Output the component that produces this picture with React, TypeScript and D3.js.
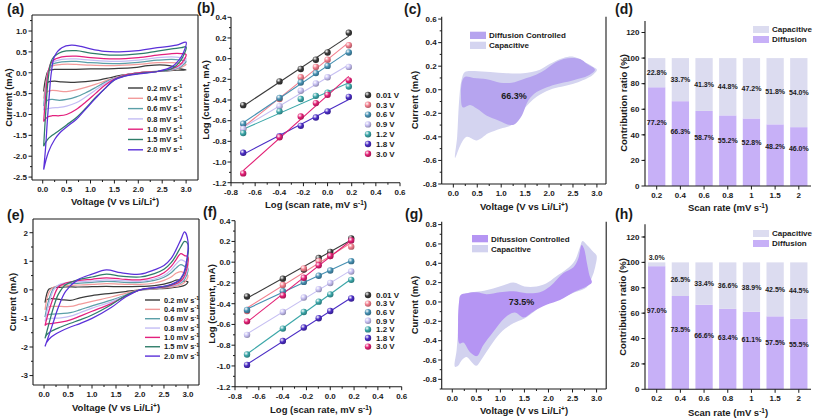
import React from "react";
import * as d3 from "d3";

const FONT = "'Liberation Sans', Arial, Helvetica, sans-serif";

// ---------------- shared categories ----------------
const scanRates = ["0.2", "0.4", "0.6", "0.8", "1.0", "1.5", "2.0"];
const cvColors = ["#3c3c3c", "#f29b9b", "#5b9fa8", "#c3bdf4", "#e3207d", "#2f7d69", "#5b30d9"];

// ---------------- panel (a) CV loops (V, mA) ----------------
const aV02 = [0.02, 0.06, 0.12, 0.25, 0.6, 1.0, 1.5, 1.9, 2.2, 2.45, 2.65, 2.85, 3.0, 2.8, 2.5, 2.2, 1.9, 1.6, 1.4, 1.2, 0.9, 0.6, 0.4, 0.25, 0.12, 0.05, 0.02];
const aI02 = [-0.45, -0.15, 0.05, 0.08, 0.08, 0.09, 0.1, 0.12, 0.17, 0.19, 0.17, 0.1, 0.07, 0.06, 0.04, 0.02, -0.02, -0.07, -0.12, -0.17, -0.21, -0.23, -0.22, -0.2, -0.22, -0.3, -0.45];
const aVmid = [0.02, 0.06, 0.12, 0.2, 0.4, 0.7, 1.0, 1.5, 2.0, 2.4, 2.7, 2.9, 3.0, 2.88, 2.7, 2.4, 2.0, 1.7, 1.5, 1.3, 1.1, 0.9, 0.7, 0.5, 0.35, 0.2, 0.1, 0.02];
const aI04 = [-0.62, -0.3, 0.05, 0.16, 0.2, 0.2, 0.18, 0.17, 0.2, 0.24, 0.24, 0.22, 0.2, 0.12, 0.06, 0.03, 0.0, -0.06, -0.12, -0.2, -0.28, -0.35, -0.41, -0.45, -0.44, -0.42, -0.45, -0.62];
const aI06 = [-0.8, -0.4, 0.05, 0.2, 0.26, 0.27, 0.24, 0.22, 0.25, 0.3, 0.32, 0.3, 0.28, 0.14, 0.07, 0.03, 0.0, -0.06, -0.13, -0.23, -0.36, -0.48, -0.58, -0.64, -0.66, -0.64, -0.66, -0.8];
const aI08 = [-0.9, -0.5, 0.05, 0.24, 0.32, 0.33, 0.3, 0.27, 0.3, 0.36, 0.38, 0.36, 0.34, 0.16, 0.08, 0.03, 0.0, -0.06, -0.14, -0.26, -0.42, -0.58, -0.72, -0.8, -0.83, -0.84, -0.86, -0.9];
const aI10 = [-1.17, -0.6, 0.05, 0.28, 0.38, 0.4, 0.36, 0.33, 0.36, 0.42, 0.46, 0.46, 0.44, 0.2, 0.09, 0.03, 0.0, -0.06, -0.15, -0.3, -0.5, -0.7, -0.88, -1.0, -1.03, -1.03, -1.06, -1.17];
const aI15 = [-1.76, -1.0, -0.1, 0.33, 0.5, 0.53, 0.47, 0.42, 0.45, 0.52, 0.57, 0.6, 0.62, 0.28, 0.1, 0.03, -0.02, -0.08, -0.17, -0.38, -0.6, -0.85, -1.08, -1.25, -1.38, -1.5, -1.6, -1.76];
const aV20 = [0.02, 0.06, 0.1, 0.14, 0.18, 0.25, 0.4, 0.6, 0.8, 1.0, 1.3, 1.6, 2.0, 2.4, 2.8, 3.0, 2.95, 2.85, 2.7, 2.4, 2.0, 1.7, 1.5, 1.3, 1.1, 0.9, 0.7, 0.5, 0.35, 0.25, 0.12, 0.02];
const aI20 = [-2.32, -1.8, -1.1, -0.5, 0.0, 0.4, 0.6, 0.66, 0.63, 0.57, 0.51, 0.5, 0.53, 0.6, 0.66, 0.73, 0.5, 0.3, 0.14, 0.03, -0.03, -0.09, -0.17, -0.38, -0.62, -0.87, -1.12, -1.3, -1.45, -1.6, -1.9, -2.32];

// ---------------- panel (e) CV loops ----------------
const eVan = [0.02, 0.1, 0.2, 0.3, 0.45, 0.7, 1.0, 1.3, 1.6, 2.0, 2.3, 2.5, 2.65, 2.75, 2.85, 2.93, 3.0];
const eVca = [2.97, 2.9, 2.8, 2.6, 2.3, 2.0, 1.7, 1.4, 1.0, 0.75, 0.55, 0.35, 0.15, 0.05, 0.02];
const eIan = [
  [-0.45, 0.02, 0.08, 0.09, 0.1, 0.1, 0.11, 0.12, 0.11, 0.12, 0.15, 0.2, 0.27, 0.34, 0.34, 0.3, 0.28],
  [-0.7, -0.1, 0.1, 0.13, 0.15, 0.17, 0.19, 0.22, 0.2, 0.19, 0.24, 0.33, 0.45, 0.58, 0.64, 0.58, 0.5],
  [-0.95, -0.35, 0.05, 0.15, 0.2, 0.23, 0.26, 0.3, 0.27, 0.26, 0.33, 0.44, 0.6, 0.76, 0.88, 0.82, 0.75],
  [-1.1, -0.5, 0.0, 0.17, 0.24, 0.28, 0.31, 0.35, 0.32, 0.3, 0.38, 0.5, 0.7, 0.9, 1.05, 1.0, 0.9],
  [-1.25, -0.75, -0.25, 0.1, 0.24, 0.32, 0.37, 0.42, 0.38, 0.35, 0.45, 0.6, 0.82, 1.05, 1.27, 1.2, 1.15],
  [-1.7, -1.2, -0.6, -0.15, 0.18, 0.35, 0.45, 0.55, 0.48, 0.45, 0.57, 0.72, 0.95, 1.2, 1.5, 1.7, 1.6],
  [-1.98, -1.6, -1.1, -0.6, -0.05, 0.35, 0.55, 0.7, 0.6, 0.55, 0.7, 0.85, 1.1, 1.4, 1.75, 2.03, 1.7],
];
const eIca = [
  [0.2, 0.14, 0.1, 0.06, 0.03, 0.0, -0.06, -0.12, -0.2, -0.28, -0.37, -0.34, -0.31, -0.35, -0.45],
  [0.35, 0.22, 0.15, 0.09, 0.04, 0.0, -0.12, -0.25, -0.4, -0.5, -0.58, -0.58, -0.58, -0.62, -0.7],
  [0.5, 0.3, 0.2, 0.11, 0.05, 0.0, -0.18, -0.36, -0.56, -0.7, -0.8, -0.83, -0.85, -0.88, -0.95],
  [0.6, 0.35, 0.22, 0.12, 0.05, 0.0, -0.2, -0.42, -0.64, -0.8, -0.92, -0.98, -1.0, -1.03, -1.1],
  [0.7, 0.4, 0.25, 0.13, 0.06, 0.0, -0.22, -0.48, -0.75, -0.92, -1.05, -1.13, -1.18, -1.2, -1.25],
  [0.9, 0.5, 0.3, 0.15, 0.07, 0.0, -0.2, -0.52, -0.88, -1.05, -1.17, -1.3, -1.45, -1.58, -1.7],
  [1.0, 0.55, 0.32, 0.17, 0.08, 0.0, -0.25, -0.62, -1.0, -1.18, -1.3, -1.45, -1.65, -1.85, -1.98],
];

// ---------------- panels (b) and (f): log i vs log v ----------------
const logRate = [-0.699, -0.398, -0.222, -0.097, 0.0, 0.176];
const potLabels = ["0.01 V", "0.3 V", "0.6 V", "0.9 V", "1.2 V", "1.8 V", "3.0 V"];
const potColors = ["#3a3a3a", "#f27d8c", "#4690b2", "#c6bff2", "#3aa6a8", "#4a2cc4", "#e21f74"];
const bLogI = [
  [-0.45, -0.22, -0.1, -0.01, 0.06, 0.25],
  [-0.68, -0.39, -0.18, -0.08, -0.01, 0.13],
  [-0.63, -0.38, -0.23, -0.14, -0.07, 0.06],
  [-0.68, -0.46, -0.31, -0.24, -0.18, -0.08],
  [-0.72, -0.51, -0.39, -0.36, -0.33, -0.27],
  [-0.91, -0.75, -0.65, -0.57, -0.51, -0.37],
  [-1.11, -0.76, -0.56, -0.43, -0.35, -0.21],
];
const fLogI = [
  [-0.33, -0.16, -0.07, 0.04, 0.1, 0.23],
  [-0.47, -0.22, -0.06, 0.01, 0.06, 0.15],
  [-0.46, -0.28, -0.19, -0.13, -0.08, 0.01],
  [-0.7, -0.48, -0.34, -0.26, -0.2, -0.09],
  [-0.89, -0.64, -0.48, -0.38, -0.31, -0.17],
  [-0.99, -0.76, -0.63, -0.54, -0.47, -0.35],
  [-0.57, -0.32, -0.15, -0.03, 0.06, 0.21],
];

// ---------------- panels (c) and (g): separated CV areas ----------------
const cOuterV = [0.035, 0.08, 0.12, 0.17, 0.24, 0.42, 0.77, 1.12, 1.46, 1.81, 2.02, 2.3, 2.51, 2.72, 2.9, 3.0, 2.95, 2.86, 2.51, 2.02, 1.74, 1.46, 1.22, 0.98, 0.73, 0.49, 0.28, 0.15, 0.07];
const cOuterI = [-0.58, -0.4, -0.1, 0.08, 0.15, 0.16, 0.15, 0.14, 0.14, 0.17, 0.22, 0.27, 0.28, 0.24, 0.2, 0.17, 0.14, 0.11, 0.05, 0.0, -0.06, -0.17, -0.3, -0.33, -0.37, -0.43, -0.4, -0.47, -0.55];
const cInnerV = [0.19, 0.25, 0.42, 0.7, 0.98, 1.22, 1.46, 1.74, 1.92, 2.09, 2.3, 2.48, 2.65, 2.79, 2.96, 2.82, 2.51, 2.02, 1.74, 1.57, 1.43, 1.29, 1.19, 0.94, 0.7, 0.49, 0.35, 0.2, 0.16];
const cInnerI = [0.08, 0.11, 0.1, 0.09, 0.06, 0.06, 0.09, 0.13, 0.17, 0.22, 0.26, 0.27, 0.26, 0.22, 0.17, 0.12, 0.08, 0.03, -0.02, -0.09, -0.22, -0.29, -0.3, -0.26, -0.22, -0.16, -0.13, -0.15, -0.05];
const gOuterV = [0.055, 0.09, 0.13, 0.18, 0.25, 0.4, 0.6, 0.85, 1.05, 1.27, 1.5, 1.75, 1.95, 2.15, 2.38, 2.55, 2.65, 2.71, 2.8, 2.93, 3.0, 2.97, 2.9, 2.79, 2.55, 2.3, 1.96, 1.7, 1.5, 1.27, 1.0, 0.8, 0.6, 0.5, 0.4, 0.3, 0.2, 0.12];
const gOuterI = [-0.67, -0.5, -0.25, 0.03, 0.08, 0.1, 0.11, 0.14, 0.17, 0.2, 0.16, 0.16, 0.19, 0.26, 0.34, 0.43, 0.56, 0.63, 0.59, 0.52, 0.48, 0.36, 0.25, 0.15, 0.1, 0.05, 0.0, -0.1, -0.17, -0.22, -0.32, -0.45, -0.6, -0.66, -0.62, -0.57, -0.6, -0.66];
const gInnerV = [0.17, 0.3, 0.51, 0.71, 0.99, 1.27, 1.55, 1.82, 2.03, 2.31, 2.52, 2.62, 2.69, 2.74, 2.8, 2.85, 2.9, 2.79, 2.52, 2.24, 1.96, 1.68, 1.48, 1.3, 1.1, 0.85, 0.64, 0.51, 0.37, 0.23, 0.15, 0.12, 0.14];
const gInnerI = [0.07, 0.09, 0.1, 0.08, 0.1, 0.11, 0.09, 0.1, 0.16, 0.3, 0.36, 0.45, 0.59, 0.55, 0.4, 0.28, 0.2, 0.16, 0.1, 0.02, -0.03, -0.1, -0.16, -0.11, -0.16, -0.31, -0.45, -0.56, -0.52, -0.42, -0.43, -0.2, 0.0];

// ---------------- panels (d) and (h): contribution ratios ----------------
const barRates = ["0.2", "0.4", "0.6", "0.8", "1", "1.5", "2"];
const dDiff = [77.2, 66.3, 58.7, 55.2, 52.8, 48.2, 46.0];
const dCap = [22.8, 33.7, 41.3, 44.8, 47.2, 51.8, 54.0];
const hDiff = [97.0, 73.5, 66.6, 63.4, 61.1, 57.5, 55.5];
const hCap = [3.0, 26.5, 33.4, 36.6, 38.9, 42.5, 44.5];

const INK = "#1a1a1a";
const DIFF_BAR = "#c7b0f7";
const CAP_BAR = "#dcdcf0";

type Pt = [number, number];
const zip = (a: number[], b: number[]): Pt[] => a.map((v, k) => [v, b[k]] as Pt);

function minorTicks(ticks: number[], domain: number[]) {
  const step = ticks[1] - ticks[0];
  const lo = Math.min(domain[0], domain[1]);
  const hi = Math.max(domain[0], domain[1]);
  const out: number[] = [];
  for (let k = -2; k < ticks.length + 2; k++) {
    const v = ticks[0] + step * (k + 0.5);
    if (v >= lo - 1e-9 && v <= hi + 1e-9) out.push(v);
  }
  return out;
}

function Axes(props: {
  x: any; y: any; xTicks: number[]; yTicks: number[];
  xFmt: (v: number) => string; yFmt: (v: number) => string;
  top?: boolean; right?: boolean; labelGap?: number;
}) {
  const { x, y, xTicks, yTicks, xFmt, yFmt, top, right } = props;
  const gap = props.labelGap ?? 5;
  const [xl, xr] = x.range();
  const [yb, yt] = y.range();
  const xm = minorTicks(xTicks, x.domain());
  const ym = minorTicks(yTicks, y.domain());
  return (
    <g stroke={INK} fill={INK} fontSize={8} fontWeight="bold">
      <line x1={xl} x2={xr} y1={yb} y2={yb} strokeWidth={1.1} />
      <line x1={xl} x2={xl} y1={yb} y2={yt} strokeWidth={1.1} />
      {top && <line x1={xl} x2={xr} y1={yt} y2={yt} strokeWidth={1.1} />}
      {right && <line x1={xr} x2={xr} y1={yb} y2={yt} strokeWidth={1.1} />}
      {xTicks.map((v, k) => (
        <g key={"xt" + k}>
          <line x1={x(v)} x2={x(v)} y1={yb} y2={yb + 3.5} />
          <text x={x(v)} y={yb + 12} textAnchor="middle" stroke="none">{xFmt(v)}</text>
        </g>
      ))}
      {xm.map((v, k) => <line key={"xm" + k} x1={x(v)} x2={x(v)} y1={yb} y2={yb + 2} />)}
      {yTicks.map((v, k) => (
        <g key={"yt" + k}>
          <line x1={xl} x2={xl - 3.5} y1={y(v)} y2={y(v)} />
          <text x={xl - gap} y={y(v)} dy="0.35em" textAnchor="end" stroke="none">{yFmt(v)}</text>
        </g>
      ))}
      {ym.map((v, k) => <line key={"ym" + k} x1={xl} x2={xl - 2} y1={y(v)} y2={y(v)} />)}
    </g>
  );
}

function Title({ x, y, rotate, children }: { x: number; y: number; rotate?: boolean; children: React.ReactNode }) {
  return (
    <text x={x} y={y} textAnchor="middle" fontSize={9.5} fontWeight="bold" fill={INK}
      transform={rotate ? `rotate(-90 ${x} ${y})` : undefined}>
      {children}
    </text>
  );
}

function PanelLabel({ x, y, t }: { x: number; y: number; t: string }) {
  return <text x={x} y={y} fontSize={14} fontWeight="bold" fill={INK}>{t}</text>;
}

const f1 = (v: number) => (Math.abs(v) < 1e-9 ? 0 : v).toFixed(1);
const f0 = (v: number) => (Math.abs(v) < 1e-9 ? 0 : v).toFixed(0);
const stepRange = (a: number, b: number, s: number) => d3.range(Math.round(a / s), Math.round(b / s) + 1).map((k) => +(k * s).toFixed(6));

function linFit(xs: number[], ys: number[]) {
  const mx = d3.mean(xs) as number;
  const my = d3.mean(ys) as number;
  let num = 0, den = 0;
  xs.forEach((xv, k) => { num += (xv - mx) * (ys[k] - my); den += (xv - mx) ** 2; });
  const m = num / den;
  return [m, my - m * mx];
}

function CVPanel({ x, y, loops, legendX, legendY, legendStep }: { x: any; y: any; loops: Pt[][]; legendX: number; legendY: number; legendStep: number }) {
  const line = d3.line<Pt>().x((d) => x(d[0])).y((d) => y(d[1])).curve(d3.curveCatmullRom.alpha(0.5));
  return (
    <g>
      {loops.map((pts, k) => (
        <path key={k} d={line(pts) || ""} fill="none" stroke={cvColors[k]} strokeWidth={1.25} strokeLinejoin="round" />
      ))}
      {scanRates.map((r, k) => (
        <g key={"lg" + k}>
          <line x1={legendX} x2={legendX + 15} y1={legendY + k * legendStep} y2={legendY + k * legendStep} stroke={cvColors[k]} strokeWidth={1.4} />
          <text x={legendX + 19} y={legendY + k * legendStep} dy="0.35em" fontSize={7.5} fontWeight="bold" fill={INK}>
            {r} mV s<tspan dy={-2.8} fontSize={5.5}>-1</tspan>
          </text>
        </g>
      ))}
    </g>
  );
}

function LogPanel({ x, y, data, id, legendY, legendStep }: { x: any; y: any; data: number[][]; id: string; legendY: number; legendStep: number }) {
  return (
    <g>
      <defs>
        {potColors.map((c, k) => (
          <radialGradient key={k} id={`${id}-ball-${k}`} cx="0.35" cy="0.32" r="0.7">
            <stop offset="0" stopColor="#ffffff" />
            <stop offset="0.5" stopColor={c} />
            <stop offset="1" stopColor={d3.color(c)!.darker(0.9).formatHex()} />
          </radialGradient>
        ))}
      </defs>
      {data.map((ys, k) => {
        const [m, b] = linFit(logRate, ys);
        const x0 = logRate[0], x1 = logRate[logRate.length - 1];
        return <line key={"fit" + k} x1={x(x0)} x2={x(x1)} y1={y(m * x0 + b)} y2={y(m * x1 + b)} stroke={potColors[k]} strokeWidth={1.1} />;
      })}
      {data.map((ys, k) =>
        ys.map((v, j) => (
          <circle key={`p${k}-${j}`} cx={x(logRate[j])} cy={y(v)} r={3.2} fill={`url(#${id}-ball-${k})`} />
        ))
      )}
      {potLabels.map((t, k) => (
        <g key={"lg" + k}>
          <circle cx={368} cy={legendY + k * legendStep} r={3.2} fill={`url(#${id}-ball-${k})`} />
          <text x={376} y={legendY + k * legendStep} dy="0.35em" fontSize={8} fontWeight="bold" fill={INK}>{t}</text>
        </g>
      ))}
    </g>
  );
}

function AreaPanel({ x, y, outer, inner, innerColor, outerColor, pct, pctAt, legendX, legendY, diffText }: any) {
  const area = d3.line<Pt>().x((d) => x(d[0])).y((d) => y(d[1])).curve(d3.curveCatmullRomClosed.alpha(0.5));
  return (
    <g>
      <path d={area(outer) || ""} fill={outerColor} />
      <path d={area(inner) || ""} fill={innerColor} />
      <text x={x(pctAt[0])} y={y(pctAt[1])} dy="0.35em" textAnchor="middle" fontSize={9} fontWeight="bold" fill={INK}>{pct}</text>
      <rect x={legendX} y={legendY} width={16} height={7.3} fill={innerColor} />
      <text x={legendX + 19} y={legendY + 3.8} dy="0.35em" fontSize={8} fontWeight="bold" fill={INK}>{diffText}</text>
      <rect x={legendX} y={legendY + 10} width={16} height={7.3} fill={outerColor} />
      <text x={legendX + 19} y={legendY + 13.8} dy="0.35em" fontSize={8} fontWeight="bold" fill={INK}>Capacitive</text>
    </g>
  );
}

function BarPanel({ x, y, diff, cap, legendY }: { x: any; y: any; diff: number[]; cap: number[]; legendY: number }) {
  const bw = x.bandwidth();
  return (
    <g>
      {barRates.map((r, k) => {
        const x0 = x(r);
        const capY = cap[k] < 8 ? 100 + 4 : diff[k] + cap[k] / 2;
        return (
          <g key={r}>
            <rect x={x0} y={y(diff[k])} width={bw} height={y(0) - y(diff[k])} fill={DIFF_BAR} />
            <rect x={x0} y={y(100)} width={bw} height={y(diff[k]) - y(100)} fill={CAP_BAR} />
            <text x={x0 + bw / 2} y={y(capY)} dy="0.35em" textAnchor="middle" fontSize={7} fontWeight="bold" fill={INK}>{cap[k].toFixed(1)}%</text>
            <text x={x0 + bw / 2} y={y(diff[k] * 0.64)} dy="0.35em" textAnchor="middle" fontSize={7} fontWeight="bold" fill={INK}>{diff[k].toFixed(1)}%</text>
          </g>
        );
      })}
      <rect x={753} y={legendY} width={16} height={7} fill={CAP_BAR} />
      <text x={772} y={legendY + 3.5} dy="0.35em" fontSize={8} fontWeight="bold" fill={INK}>Capacitive</text>
      <rect x={753} y={legendY + 10} width={16} height={7} fill={DIFF_BAR} />
      <text x={772} y={legendY + 13.5} dy="0.35em" fontSize={8} fontWeight="bold" fill={INK}>Diffusion</text>
    </g>
  );
}

function BarAxes({ x, y }: { x: any; y: any }) {
  const [yb, yt] = y.range();
  const xl = 645;
  const xr = 811;
  const yTicks = stepRange(0, 120, 20);
  const ym = stepRange(10, 120, 20);
  return (
    <g stroke={INK} fill={INK} fontSize={8} fontWeight="bold">
      <line x1={xl} x2={xr} y1={yb} y2={yb} strokeWidth={1.1} />
      <line x1={xl} x2={xl} y1={yb} y2={yt} strokeWidth={1.1} />
      {barRates.map((r) => (
        <g key={r}>
          <line x1={x(r) + x.bandwidth() / 2} x2={x(r) + x.bandwidth() / 2} y1={yb} y2={yb + 3.5} />
          <text x={x(r) + x.bandwidth() / 2} y={yb + 12} textAnchor="middle" stroke="none">{r}</text>
        </g>
      ))}
      {yTicks.map((v) => (
        <g key={v}>
          <line x1={xl} x2={xl - 3.5} y1={y(v)} y2={y(v)} />
          <text x={xl - 5.5} y={y(v)} dy="0.35em" textAnchor="end" stroke="none">{v}</text>
        </g>
      ))}
      {ym.map((v) => <line key={"m" + v} x1={xl} x2={xl - 2} y1={y(v)} y2={y(v)} />)}
    </g>
  );
}

export default function App() {
  // scales
  const xA = d3.scaleLinear().domain([-0.224, 3.249]).range([32, 198]);
  const yA = d3.scaleLinear().domain([-2.57, 1.384]).range([180, 15]);
  const xE = d3.scaleLinear().domain([-0.23, 3.23]).range([33, 199]);
  const yE = d3.scaleLinear().domain([-3.33, 2.48]).range([385, 219]);
  const xB = d3.scaleLinear().domain([-0.8, 0.6]).range([231, 400]);
  const yB = d3.scaleLinear().domain([-1.2, 0.4]).range([182.7, 17.3]);
  const xF = d3.scaleLinear().domain([-0.8, 0.6]).range([235, 401.7]);
  const yF = d3.scaleLinear().domain([-1.2, 0.4]).range([386.7, 220.7]);
  const xC = d3.scaleLinear().domain([-0.243, 3.19]).range([441.7, 606]);
  const yC = d3.scaleLinear().domain([-0.8, 0.62]).range([184, 16.7]);
  const xG = d3.scaleLinear().domain([-0.22, 3.2]).range([441.7, 606.2]);
  const yG = d3.scaleLinear().domain([-0.9, 0.83]).range([389, 221.7]);
  const xD = d3.scaleBand<string>().domain(barRates).range([645.2, 810.3]).paddingInner(0.27).paddingOuter(0.12);
  const yD = d3.scaleLinear().domain([0, 129]).range([186, 21]);
  const yH = d3.scaleLinear().domain([0, 130]).range([389.3, 224.3]);

  const aLoops: Pt[][] = [
    zip(aV02, aI02), zip(aVmid, aI04), zip(aVmid, aI06), zip(aVmid, aI08),
    zip(aVmid, aI10), zip(aVmid, aI15), zip(aV20, aI20),
  ];
  const eV = [...eVan, ...eVca];
  const eLoops: Pt[][] = eIan.map((an, k) => zip(eV, [...an, ...eIca[k]]));

  const voltTicks = stepRange(0, 3, 0.5);

  return (
    <svg width={813} height={420} viewBox="0 0 813 420" fontFamily={FONT}
      style={{ position: "absolute", left: 0, top: 0, background: "#fff" }}>
      <rect width={813} height={420} fill="#fff" />

      {/* (a) */}
      <CVPanel x={xA} y={yA} loops={aLoops} legendX={128} legendY={88} legendStep={10.3} />
      <Axes x={xA} y={yA} xTicks={voltTicks} yTicks={stepRange(-2.5, 1.0, 0.5)} xFmt={f1} yFmt={f1} top right />
      <Title x={115} y={205}>Voltage (V vs Li/Li<tspan dy={-3.5} fontSize={6.5}>+</tspan><tspan dy={3.5}>)</tspan></Title>
      <Title x={12} y={97.5} rotate>Current (mA)</Title>
      <PanelLabel x={7} y={14} t="(a)" />

      {/* (b) */}
      <LogPanel x={xB} y={yB} data={bLogI} id="b" legendY={95} legendStep={9.8} />
      <Axes x={xB} y={yB} xTicks={stepRange(-0.8, 0.6, 0.2)} yTicks={stepRange(-1.2, 0.4, 0.2)} xFmt={f1} yFmt={f1} labelGap={4.5} />
      <Title x={316} y={208}>Log (scan rate, mV s<tspan dy={-3.5} fontSize={6.5}>-1</tspan><tspan dy={3.5}>)</tspan></Title>
      <Title x={209} y={100} rotate>Log (current, mA)</Title>
      <PanelLabel x={197} y={13} t="(b)" />

      {/* (c) */}
      <AreaPanel x={xC} y={yC} outer={zip(cOuterV, cOuterI)} inner={zip(cInnerV, cInnerI)}
        innerColor="#b6a4ef" outerColor="#d4d4f0" pct="66.3%" pctAt={[1.27, -0.05]}
        legendX={470} legendY={31.7} diffText="Diffusion Controlled" />
      <Axes x={xC} y={yC} xTicks={voltTicks} yTicks={stepRange(-0.8, 0.6, 0.2)} xFmt={f1} yFmt={f1} right />
      <Title x={524} y={210}>Voltage (V vs Li/Li<tspan dy={-3.5} fontSize={6.5}>+</tspan><tspan dy={3.5}>)</tspan></Title>
      <Title x={418} y={100} rotate>Current (mA)</Title>
      <PanelLabel x={404} y={14} t="(c)" />

      {/* (d) */}
      <BarPanel x={xD} y={yD} diff={dDiff} cap={dCap} legendY={26} />
      <BarAxes x={xD} y={yD} />
      <Title x={728} y={211}>Scan rate (mV s<tspan dy={-3.5} fontSize={6.5}>-1</tspan><tspan dy={3.5}>)</tspan></Title>
      <Title x={627} y={103} rotate>Contribution ratio (%)</Title>
      <PanelLabel x={615} y={14} t="(d)" />

      {/* (e) */}
      <CVPanel x={xE} y={yE} loops={eLoops} legendX={145} legendY={300} legendStep={9.35} />
      <Axes x={xE} y={yE} xTicks={voltTicks} yTicks={stepRange(-3, 2, 1)} xFmt={f1} yFmt={f0} top right />
      <Title x={116} y={411}>Voltage (V vs Li/Li<tspan dy={-3.5} fontSize={6.5}>+</tspan><tspan dy={3.5}>)</tspan></Title>
      <Title x={16} y={302} rotate>Current (mA)</Title>
      <PanelLabel x={7} y={220} t="(e)" />

      {/* (f) */}
      <LogPanel x={xF} y={yF} data={fLogI} id="f" legendY={295} legendStep={8.6} />
      <Axes x={xF} y={yF} xTicks={stepRange(-0.8, 0.6, 0.2)} yTicks={stepRange(-1.2, 0.4, 0.2)} xFmt={f1} yFmt={f1} labelGap={4.5} />
      <Title x={321} y={413}>Log (scan rate, mV s<tspan dy={-3.5} fontSize={6.5}>-1</tspan><tspan dy={3.5}>)</tspan></Title>
      <Title x={215} y={304} rotate>Log (current, mA)</Title>
      <PanelLabel x={203} y={217} t="(f)" />

      {/* (g) */}
      <AreaPanel x={xG} y={yG} outer={zip(gOuterV, gOuterI)} inner={zip(gInnerV, gInnerI)}
        innerColor="#b595f3" outerColor="#d2d2ef" pct="73.5%" pctAt={[1.44, 0.0]}
        legendX={472} legendY={235} diffText="Difussion Controlled" />
      <Axes x={xG} y={yG} xTicks={voltTicks} yTicks={stepRange(-0.8, 0.8, 0.2)} xFmt={f1} yFmt={f1} right />
      <Title x={524} y={414}>Voltage (V vs Li/Li<tspan dy={-3.5} fontSize={6.5}>+</tspan><tspan dy={3.5}>)</tspan></Title>
      <Title x={418} y={305} rotate>Current (mA)</Title>
      <PanelLabel x={405} y={219} t="(g)" />

      {/* (h) */}
      <BarPanel x={xD} y={yH} diff={hDiff} cap={hCap} legendY={230} />
      <BarAxes x={xD} y={yH} />
      <Title x={728} y={416}>Scan rate (mV s<tspan dy={-3.5} fontSize={6.5}>-1</tspan><tspan dy={3.5}>)</tspan></Title>
      <Title x={626} y={307} rotate>Contribution ratio (%)</Title>
      <PanelLabel x={615} y={219} t="(h)" />
    </svg>
  );
}
